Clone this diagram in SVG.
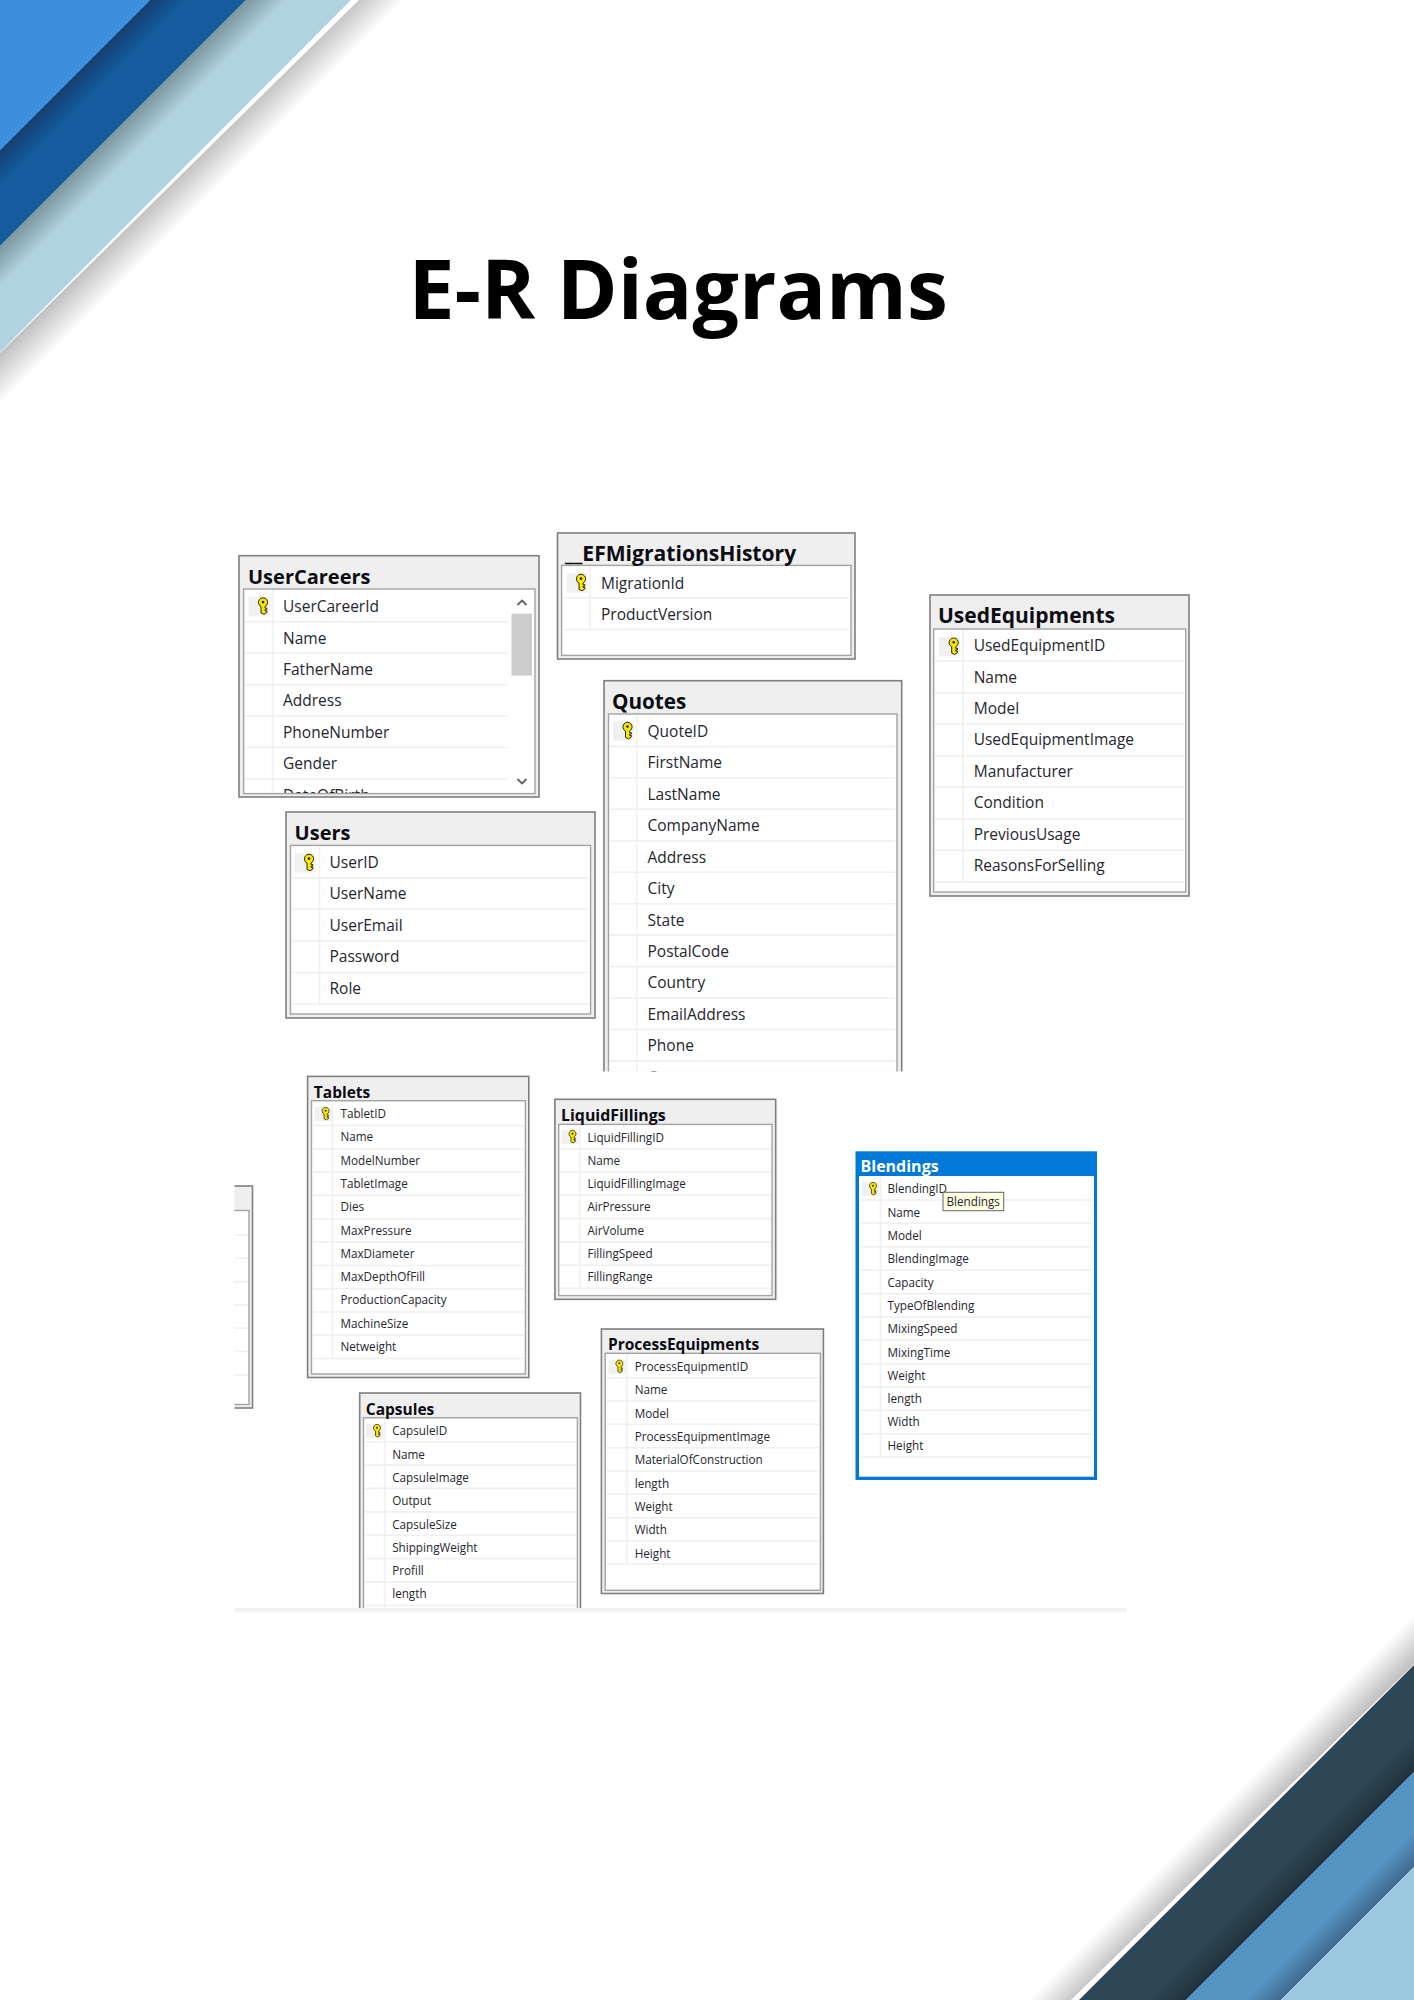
<svg xmlns="http://www.w3.org/2000/svg" xmlns:xlink="http://www.w3.org/1999/xlink" width="1414" height="2000" viewBox="0 0 1414 2000">
<style>
.o{fill:#efefef;stroke:#7f7f7f;stroke-width:1.6}
.i{fill:#fff;stroke:#a3a3a3;stroke-width:1.4}
.s{fill:none;stroke:#f0f0f0;stroke-width:1.6}
.hl{font-family:"Open Sans","Noto Sans",sans-serif;font-weight:700;font-size:20px;fill:#0c0c14}
.hs{font-family:"Open Sans","Noto Sans",sans-serif;font-weight:700;font-size:15.5px;fill:#0c0c14}
.tl{font-family:"Open Sans","Noto Sans",sans-serif;font-size:15.5px;fill:#26262e}
.ts{font-family:"Open Sans","Noto Sans",sans-serif;font-size:11.7px;fill:#26262e}
.ti{font-family:"Open Sans","Noto Sans",sans-serif;font-weight:700;font-size:82.3px;fill:#000}
</style>
<defs>
<linearGradient id="gtl" gradientUnits="userSpaceOnUse" x1="0" y1="0" x2="202.5" y2="202.5">
<stop offset="0" stop-color="#3d8fde"/><stop offset=".3704" stop-color="#3d8fde"/>
<stop offset=".3704" stop-color="#133f6e"/><stop offset=".4617" stop-color="#155c9f"/>
<stop offset=".6074" stop-color="#155c9f"/><stop offset=".6074" stop-color="#7b949e"/>
<stop offset=".7086" stop-color="#b0d3e0"/><stop offset=".8667" stop-color="#b0d3e0"/>
<stop offset=".8667" stop-color="#bdbdbd"/><stop offset="1" stop-color="#fff"/>
</linearGradient>
<linearGradient id="gbr" gradientUnits="userSpaceOnUse" x1="1514" y1="1514" x2="1707" y2="1707">
<stop offset="0" stop-color="#fff"/><stop offset=".1321" stop-color="#bdbdbd"/>
<stop offset=".1321" stop-color="#2d4754"/><stop offset=".3161" stop-color="#2d4754"/>
<stop offset=".4093" stop-color="#1f3039"/><stop offset=".4093" stop-color="#5694c3"/>
<stop offset=".5622" stop-color="#5694c3"/><stop offset=".6554" stop-color="#3f6a8e"/>
<stop offset=".6554" stop-color="#9cc8e1"/><stop offset="1" stop-color="#9cc8e1"/>
</linearGradient>
<g id="kg">
<path d="M-2 0A4.6 4.6 0 1 1 2 0V1.6H3.8V3.2H2V4.4H3.8V6L1 7.8L-2 6.4Z" fill="#f6e600" stroke="#2a2a10" stroke-width="1"/>
<circle cx="0" cy="-4.4" r="1.3" fill="#2a2a10"/>
</g>
<g id="kl"><rect x="-14.5" y="-9.7" width="21" height="19.4" fill="#f1f1f1"/><use xlink:href="#kg"/></g>
<g id="ks"><rect x="-11" y="-7" width="17" height="14" fill="#f1f1f1"/><use xlink:href="#kg" transform="scale(.76)"/></g>
<clipPath id="cuc"><rect x="244" y="590" width="268" height="203"/></clipPath>
<clipPath id="cqu"><rect x="600" y="670" width="310" height="401.5"/></clipPath>
<clipPath id="cca"><rect x="350" y="1385" width="240" height="223"/></clipPath>
<clipPath id="cpa"><rect x="234.5" y="1180" width="25" height="235"/></clipPath>
</defs>

<polygon id="corner-top-left" points="0,0 405,0 0,405" fill="url(#gtl)"/>
<polygon id="corner-top-left-line" points="351,0 359,0 0,353 0,352" fill="#fff"/>
<polygon id="corner-bottom-right" points="1414,1614 1414,2000 1028,2000" fill="url(#gbr)"/>
<polygon id="corner-bottom-right-line" points="1079,2000 1071,2000 1414,1664 1414,1665" fill="#fff"/>

<text id="title" class="ti" x="408.5" y="319">E-R Diagrams</text>

<g id="connectors"/>

<g id="UserCareers">
<rect class="o" x="239" y="555.7" width="300" height="241.3"/>
<rect class="i" x="243.6" y="589" width="291.4" height="204.6"/>
<path class="s" d="M245 621.8H508M245 653.2H508M245 684.6H508M245 716H508M245 747.5H508M245 779H508M272.6 590V793"/>
<use xlink:href="#kl" x="263" y="606.5"/>
<rect x="511.5" y="613.6" width="20.5" height="62" fill="#cdcdcd"/>
<path d="M517.5 605L522 600.5L526.5 605M517.5 779L522 783.5L526.5 779" fill="none" stroke="#606060" stroke-width="1.8"/>
<text class="hl" x="248" y="584">UserCareers</text>
<text class="tl" x="283" y="612">UserCareerId</text>
<text class="tl" x="283" y="643.5">Name</text>
<text class="tl" x="283" y="674.9">FatherName</text>
<text class="tl" x="283" y="706.4">Address</text>
<text class="tl" x="283" y="737.8">PhoneNumber</text>
<text class="tl" x="283" y="769.3">Gender</text>
<text class="tl" x="283" y="800.7" clip-path="url(#cuc)">DateOfBirth</text>
</g>

<g id="EFMigrationsHistory">
<rect class="o" x="557.5" y="533" width="297.5" height="126"/>
<rect class="i" x="561.6" y="565.4" width="289.4" height="90"/>
<path class="s" d="M563 598H849M563 629.6H849M590 566V629.6"/>
<use xlink:href="#kl" x="581" y="583"/>
<text class="hl" x="565" y="561" style="font-size:21.1px">__EFMigrationsHistory</text>
<text class="tl" x="601" y="589">MigrationId</text>
<text class="tl" x="601" y="620">ProductVersion</text>
</g>

<g id="Quotes">
<g clip-path="url(#cqu)">
<rect class="o" x="604" y="680.7" width="297.7" height="420"/>
<rect class="i" x="608.5" y="714" width="288.5" height="400"/>
<path class="s" d="M610 746.4H895M610 777.8H895M610 809.3H895M610 840.8H895M610 872.2H895M610 903.7H895M610 935.1H895M610 966.6H895M610 998H895M610 1029.5H895M610 1060.9H895M636.7 715V1072"/>
<text class="tl" x="647.5" y="1082.8">Comments</text>
</g>
<use xlink:href="#kl" x="627.5" y="731"/>
<text class="hl" x="612" y="708.6" style="font-size:20.7px">Quotes</text>
<text class="tl" x="647.5" y="736.8">QuoteID</text>
<text class="tl" x="647.5" y="768.2">FirstName</text>
<text class="tl" x="647.5" y="799.7">LastName</text>
<text class="tl" x="647.5" y="831.1">CompanyName</text>
<text class="tl" x="647.5" y="862.6">Address</text>
<text class="tl" x="647.5" y="894">City</text>
<text class="tl" x="647.5" y="925.5">State</text>
<text class="tl" x="647.5" y="956.9">PostalCode</text>
<text class="tl" x="647.5" y="988.4">Country</text>
<text class="tl" x="647.5" y="1019.9">EmailAddress</text>
<text class="tl" x="647.5" y="1051.3">Phone</text>
</g>

<g id="Users">
<rect class="o" x="286" y="812" width="309" height="206"/>
<rect class="i" x="290.5" y="845.4" width="300.1" height="168.6"/>
<path class="s" d="M292 877.9H589M292 909.3H589M292 941H589M292 972.5H589M292 1004H589M319.5 846V1004"/>
<use xlink:href="#kl" x="309" y="863"/>
<text class="hl" x="294.6" y="840">Users</text>
<text class="tl" x="329.5" y="868">UserID</text>
<text class="tl" x="329.5" y="899.4">UserName</text>
<text class="tl" x="329.5" y="930.9">UserEmail</text>
<text class="tl" x="329.5" y="962.3">Password</text>
<text class="tl" x="329.5" y="993.8">Role</text>
</g>

<g id="UsedEquipments">
<rect class="o" x="930" y="595" width="259" height="301"/>
<rect class="i" x="933.7" y="629" width="252" height="263"/>
<path class="s" d="M935 661H1184M935 692.7H1184M935 724.3H1184M935 755.7H1184M935 787.3H1184M935 818.7H1184M935 850.3H1184M935 882H1184M963 630V882"/>
<use xlink:href="#kl" x="953.7" y="646.7"/>
<text class="hl" x="938" y="623" style="font-size:21px">UsedEquipments</text>
<text class="tl" x="973.7" y="651">UsedEquipmentID</text>
<text class="tl" x="973.7" y="682.5">Name</text>
<text class="tl" x="973.7" y="713.9">Model</text>
<text class="tl" x="973.7" y="745.4">UsedEquipmentImage</text>
<text class="tl" x="973.7" y="776.8">Manufacturer</text>
<text class="tl" x="973.7" y="808.3">Condition</text>
<text class="tl" x="973.7" y="839.7">PreviousUsage</text>
<text class="tl" x="973.7" y="871.2">ReasonsForSelling</text>
</g>

<g id="PartialTable" clip-path="url(#cpa)">
<rect class="o" x="200" y="1186" width="52.5" height="222"/>
<rect class="i" x="200" y="1210.5" width="49" height="194"/>
<path class="s" d="M234 1235H248M234 1258.3H248M234 1281.6H248M234 1304.9H248M234 1328.2H248M234 1351.5H248M234 1375H248"/>
</g>

<g id="Tablets">
<rect class="o" x="307.6" y="1076.4" width="221.2" height="301.1"/>
<rect class="i" x="311.5" y="1100.7" width="213.9" height="273.3"/>
<path class="s" d="M313 1125.5H524M313 1148.8H524M313 1172.1H524M313 1195.4H524M313 1218.7H524M313 1242H524M313 1265.5H524M313 1288.8H524M313 1312H524M313 1335.3H524M313 1358.5H524M332.5 1101.5V1358.5"/>
<use xlink:href="#ks" x="325.6" y="1114"/>
<text class="hs" x="313.8" y="1097.8">Tablets</text>
<text class="ts" x="340.5" y="1118">TabletID</text>
<text class="ts" x="340.5" y="1141.3">Name</text>
<text class="ts" x="340.5" y="1164.6">ModelNumber</text>
<text class="ts" x="340.5" y="1187.9">TabletImage</text>
<text class="ts" x="340.5" y="1211.2">Dies</text>
<text class="ts" x="340.5" y="1234.5">MaxPressure</text>
<text class="ts" x="340.5" y="1257.8">MaxDiameter</text>
<text class="ts" x="340.5" y="1281.1">MaxDepthOfFill</text>
<text class="ts" x="340.5" y="1304.4">ProductionCapacity</text>
<text class="ts" x="340.5" y="1327.7">MachineSize</text>
<text class="ts" x="340.5" y="1351">Netweight</text>
</g>

<g id="LiquidFillings">
<rect class="o" x="554.9" y="1099.3" width="220.8" height="200"/>
<rect class="i" x="558.7" y="1124.4" width="213.3" height="171.2"/>
<path class="s" d="M560 1148.7H771M560 1172H771M560 1195.3H771M560 1218.6H771M560 1241.9H771M560 1265.2H771M560 1288.4H771M579.7 1125V1288.4"/>
<use xlink:href="#ks" x="572.5" y="1137"/>
<text class="hs" x="561" y="1121" style="font-size:15.9px">LiquidFillings</text>
<text class="ts" x="587.4" y="1141.5">LiquidFillingID</text>
<text class="ts" x="587.4" y="1164.8">Name</text>
<text class="ts" x="587.4" y="1188.1">LiquidFillingImage</text>
<text class="ts" x="587.4" y="1211.4">AirPressure</text>
<text class="ts" x="587.4" y="1234.7">AirVolume</text>
<text class="ts" x="587.4" y="1258">FillingSpeed</text>
<text class="ts" x="587.4" y="1281.3">FillingRange</text>
</g>

<g id="Capsules">
<g clip-path="url(#cca)">
<rect class="o" x="359.7" y="1393" width="220.8" height="240"/>
<rect class="i" x="363.5" y="1417.8" width="213.9" height="240"/>
<path class="s" d="M365 1441.8H576M365 1465.1H576M365 1488.4H576M365 1511.9H576M365 1535.2H576M365 1558.5H576M365 1582H576M365 1605.5H576M384.6 1418.5V1608"/>
</g>
<use xlink:href="#ks" x="377" y="1431"/>
<text class="hs" x="365.8" y="1414.5">Capsules</text>
<text class="ts" x="392.2" y="1435.3">CapsuleID</text>
<text class="ts" x="392.2" y="1458.6">Name</text>
<text class="ts" x="392.2" y="1481.9">CapsuleImage</text>
<text class="ts" x="392.2" y="1505.2">Output</text>
<text class="ts" x="392.2" y="1528.5">CapsuleSize</text>
<text class="ts" x="392.2" y="1551.8">ShippingWeight</text>
<text class="ts" x="392.2" y="1575.1">Profill</text>
<text class="ts" x="392.2" y="1598.4">length</text>
</g>

<g id="ProcessEquipments">
<rect class="o" x="601.4" y="1329" width="222" height="264.5"/>
<rect class="i" x="605.2" y="1353.3" width="215.2" height="237"/>
<path class="s" d="M606.5 1377.7H819M606.5 1401H819M606.5 1424.3H819M606.5 1447.7H819M606.5 1471H819M606.5 1494.3H819M606.5 1517.7H819M606.5 1541H819M606.5 1564.3H819M626.7 1354V1564.3"/>
<use xlink:href="#ks" x="619.4" y="1366.7"/>
<text class="hs" x="608" y="1350">ProcessEquipments</text>
<text class="ts" x="634.7" y="1371">ProcessEquipmentID</text>
<text class="ts" x="634.7" y="1394.3">Name</text>
<text class="ts" x="634.7" y="1417.6">Model</text>
<text class="ts" x="634.7" y="1441">ProcessEquipmentImage</text>
<text class="ts" x="634.7" y="1464.3">MaterialOfConstruction</text>
<text class="ts" x="634.7" y="1487.6">length</text>
<text class="ts" x="634.7" y="1510.9">Weight</text>
<text class="ts" x="634.7" y="1534.2">Width</text>
<text class="ts" x="634.7" y="1557.5">Height</text>
</g>

<g id="Blendings">
<rect x="855.5" y="1151.3" width="241.5" height="328.7" fill="#0078d7"/>
<rect x="859" y="1176" width="235" height="300.7" fill="#fff"/>
<path class="s" d="M860.5 1200H1092M860.5 1223.3H1092M860.5 1246.7H1092M860.5 1270.3H1092M860.5 1293.7H1092M860.5 1317H1092M860.5 1340.3H1092M860.5 1363.7H1092M860.5 1387H1092M860.5 1410.3H1092M860.5 1433.7H1092M860.5 1457H1092M880.5 1177V1457"/>
<use xlink:href="#ks" x="873" y="1189"/>
<text class="hs" x="860.5" y="1172.3" style="fill:#fff;font-size:16px">Blendings</text>
<text class="ts" x="887.5" y="1193.3">BlendingID</text>
<text class="ts" x="887.5" y="1216.6">Name</text>
<text class="ts" x="887.5" y="1239.9">Model</text>
<text class="ts" x="887.5" y="1263.3">BlendingImage</text>
<text class="ts" x="887.5" y="1286.6">Capacity</text>
<text class="ts" x="887.5" y="1309.9">TypeOfBlending</text>
<text class="ts" x="887.5" y="1333.2">MixingSpeed</text>
<text class="ts" x="887.5" y="1356.5">MixingTime</text>
<text class="ts" x="887.5" y="1379.8">Weight</text>
<text class="ts" x="887.5" y="1403.1">length</text>
<text class="ts" x="887.5" y="1426.4">Width</text>
<text class="ts" x="887.5" y="1449.8">Height</text>
<rect x="943" y="1192.3" width="60.7" height="18.4" fill="#ffffe1" stroke="#646464" stroke-width="1"/>
<text class="ts" x="946.5" y="1205.7">Blendings</text>
</g>

<rect id="bottom-strip" x="234.5" y="1608" width="892" height="3.7" fill="#f1f1f1"/>
</svg>
